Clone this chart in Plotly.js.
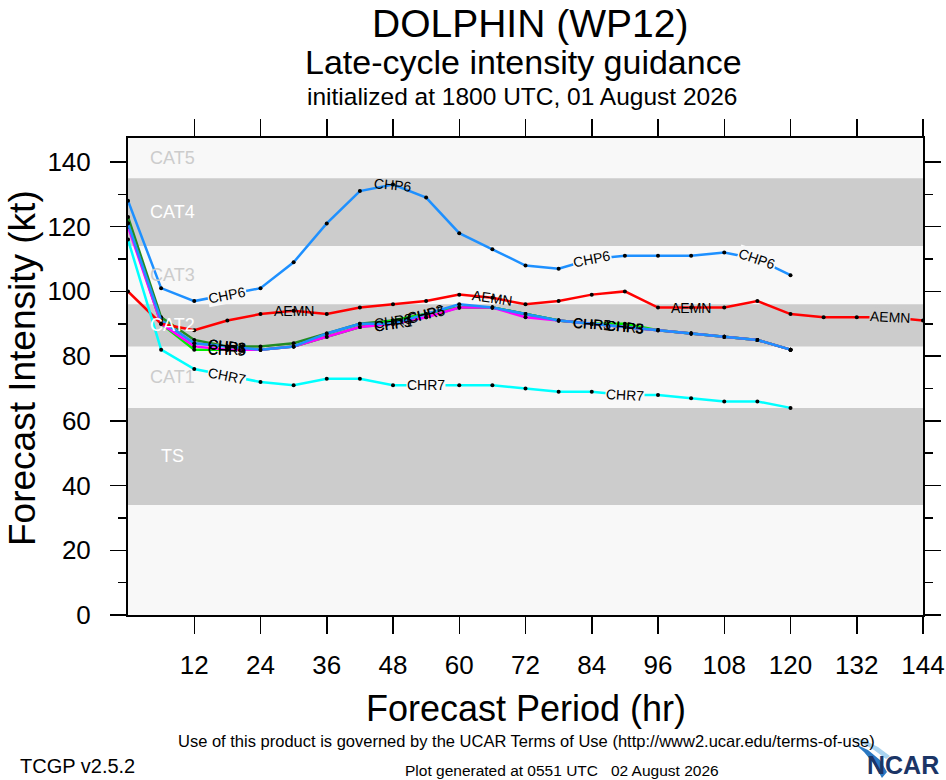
<!DOCTYPE html>
<html><head><meta charset="utf-8">
<script src="https://cdn.plot.ly/plotly-3.0.1.min.js"></script>
<style>html,body{margin:0;padding:0;background:#fff}#chart{width:946px;height:780px}</style>
</head><body><div id="chart"></div>
<script>
// ---------- data ----------
const hours = [0,6,12,18,24,30,36,42,48,54,60,66,72,78,84,90,96,102,108,114,120];
const hoursLong = [0,6,12,18,24,30,36,42,48,54,60,66,72,78,84,90,96,102,108,114,120,126,132,138,144];

const CHR1 = [122,91,84,83,82,83,86,89,90,92,95,95,93,91,90,89,88,87,86,85,82];
const CHR3 = [123,92,85,83,83,84,87,90,91,93,95,95,93,91,90,89,88,87,86,85,82];
const CHR5 = [121,90,82,82,82,83,86,89,91,93,95,95,93,91,90,90,88,87,86,85,82];
const CHP5 = [120,90,83,82,82,83,86,89,90,92,95,95,92,91,90,89,88,87,86,85,82];
const CHP3 = [121,91,84,83,82,83,87,90,90,93,96,95,93,91,90,89,88,87,86,85,82];
const CHP6 = [128,101,97,99,101,109,121,131,133,129,118,113,108,107,110,111,111,111,112,110,105];
const AEMN = [100,90,88,91,93,94,93,95,96,97,99,98,96,97,99,100,95,95,95,97,93,92,92,92,91];
const CHR7 = [116,82,76,74,72,71,73,73,71,71,71,71,70,69,69,68,68,67,66,66,64];

const xTickVals = [12,24,36,48,60,72,84,96,108,120,132,144];
const yTickVals = [0,20,40,60,80,100,120,140];

const catNames = ['TS','CAT1','CAT2','CAT3','CAT4','CAT5'];
const catLow   = [34,64,83,96,114,135];
const catHigh  = [64,83,96,114,135,160];
const catGray  = [true,false,true,false,true,false];

// ---------- geometry ----------
const W = 946, H = 780, L = 128, R = 923, T = 138, B = 615;
const XMAX = 144, YMAX = 147.4;
const pw = R - L, ph = B - T;
const pxX = px => (px - L) / pw;
const pxY = py => (B - py) / ph;
const hrPx = pw / XMAX, ktPx = ph / YMAX;
const GRAY = '#cccccc', LIGHT = '#f8f8f8';
const FONT = 'Liberation Sans, Arial, Helvetica, sans-serif';
const NARROW = 'Liberation Sans Narrow, Liberation Sans, Arial, sans-serif';

function bandColor(v){
  for (let i=0;i<catNames.length;i++) if (v>=catLow[i] && v<catHigh[i]) return catGray[i]?GRAY:LIGHT;
  return LIGHT;
}

const series = [
  {name:'CHR1', x:hours, y:CHR1, color:'#8c8c8c', labels:[18,48,84], bg:false},
  {name:'CHR3', x:hours, y:CHR3, color:'#228b22', labels:[18,48,90], bg:false},
  {name:'CHR5', x:hours, y:CHR5, color:'#00ee00', labels:[18,54,84], bg:false},
  {name:'CHP5', x:hours, y:CHP5, color:'#ff00ff', labels:[18,48,90], bg:false},
  {name:'CHP3', x:hours, y:CHP3, color:'#1e90ff', labels:[18,54,90], bg:false},
  {name:'CHP6', x:hours, y:CHP6, color:'#1e90ff', labels:[18,48,84,114], bg:true},
  {name:'AEMN', x:hoursLong, y:AEMN, color:'#ff0000', labels:[30,66,102,138], bg:true},
  {name:'CHR7', x:hours, y:CHR7, color:'#00ffff', labels:[18,54,90], bg:true}
];

const traces = series.map(s => ({
  type:'scatter', mode:'lines+markers', name:s.name, x:s.x, y:s.y,
  line:{color:s.color, width:2.5}, marker:{color:'black', size:4},
  hoverinfo:'skip', showlegend:false
}));

const annotations = [];
series.forEach(s => {
  s.labels.forEach(h => {
    const i = s.x.indexOf(h);
    const v = s.y[i];
    const i0 = Math.max(0,i-1), i1 = Math.min(s.x.length-1,i+1);
    const dx = (s.x[i1]-s.x[i0])*hrPx, dy = (s.y[i1]-s.y[i0])*ktPx;
    const ang = -Math.atan2(dy,dx)*180/Math.PI;
    const fits = bandColor(v-2.6) === bandColor(v+2.6);
    annotations.push({
      x:h, y:v, xref:'x', yref:'y', text:s.name, showarrow:false,
      textangle:ang, font:{family:FONT, size:14, color:'black'},
      bgcolor: (s.bg && fits) ? bandColor(v) : 'rgba(0,0,0,0)', borderpad:0
    });
  });
});

// category labels
catNames.forEach((n,i) => {
  const mid = (catLow[i] + Math.min(catHigh[i], YMAX)) / 2;
  annotations.push({x:8, y:mid, xref:'x', yref:'y', text:n, showarrow:false,
    font:{family:FONT, size:18, color: catGray[i] ? '#ffffff' : '#cccccc'}});
});

function txt(t, cx, cy, size, opts){
  return Object.assign({text:t, x:pxX(cx), y:pxY(cy), xref:'paper', yref:'paper',
    showarrow:false, xanchor:'center', yanchor:'middle',
    font:{family:FONT, size:size, color:'black'}}, opts||{});
}
annotations.push(txt('DOLPHIN (WP12)', 530, 0, 39, {yanchor:'top'}));
annotations.push(txt('Late-cycle intensity guidance', 523, 62, 34));
annotations.push(txt('initialized at 1800 UTC, 01 August 2026', 522, 97, 24.5));
annotations.push(txt('Forecast Intensity (kt)', 22, 368, 37, {textangle:-90}));
annotations.push(txt('Forecast Period (hr)', 526, 708, 36));
annotations.push(txt('Use of this product is governed by the UCAR Terms of Use (http://www2.ucar.edu/terms-of-use)', 526, 741, 16.5, {font:{family:NARROW, size:16.5, color:'black'}}));
annotations.push(txt('TCGP v2.5.2', 18, 766, 20, {xanchor:'left', font:{family:NARROW, size:20, color:'black'}}));
annotations.push(txt('Plot generated at 0551 UTC\u00a0\u00a0\u00a002 August 2026', 562, 770, 15.5, {font:{family:NARROW, size:15.5, color:'black'}}));
annotations.push(txt('<b>NCAR</b>', 941, 765, 25, {xanchor:'right', font:{family:NARROW, size:25, color:'#1b3566'}}));

// shapes: category bands + NCAR swoosh
const shapes = [];
catNames.forEach((n,i) => {
  if (catGray[i]) shapes.push({type:'rect', xref:'paper', yref:'y', x0:0, x1:1,
    y0:catLow[i], y1:Math.min(catHigh[i],YMAX), fillcolor:GRAY, line:{width:0}, layer:'below'});
});
function pathPx(pts){
  return 'M' + pts.map(p => pxX(p[0]).toFixed(4)+','+pxY(p[1]).toFixed(4)).join(' L') + ' Z';
}
shapes.push({type:'path', xref:'paper', yref:'paper', fillcolor:'#a9d3f0', line:{width:0},
  path: pathPx([[850,737],[864,740],[878,747],[890,756],[886,759],[874,750],[860,742]])});
shapes.push({type:'path', xref:'paper', yref:'paper', fillcolor:'#2a78c2', line:{width:0},
  path: pathPx([[855,744],[868,750],[880,760],[887,772],[882,778],[874,764],[864,752]])});

const layout = {
  width:W, height:H,
  margin:{l:L, r:W-R, t:T, b:H-B, pad:0},
  paper_bgcolor:'#ffffff', plot_bgcolor:LIGHT,
  showlegend:false,
  font:{family:FONT, color:'black'},
  xaxis:{range:[0,XMAX], tickmode:'array', tickvals:xTickVals, ticktext:xTickVals.map(String),
    ticks:'outside', ticklen:17, tickwidth:1.5, tickcolor:'black',
    showline:true, linecolor:'black', linewidth:2, mirror:'ticks',
    showgrid:false, zeroline:false, tickfont:{family:FONT, size:26}, ticklabelstandoff:9},
  yaxis:{range:[0,YMAX], tickmode:'array', tickvals:yTickVals, ticktext:yTickVals.map(String),
    ticks:'outside', ticklen:16, tickwidth:1.5, tickcolor:'black',
    minor:{tickmode:'linear', tick0:10, dtick:20, ticks:'outside', ticklen:8, tickwidth:1.5, tickcolor:'black', showgrid:false},
    showline:true, linecolor:'black', linewidth:2, mirror:'ticks',
    showgrid:false, zeroline:false, tickfont:{family:FONT, size:26}, ticklabelstandoff:14},
  annotations:annotations, shapes:shapes
};

Plotly.newPlot('chart', traces, layout, {staticPlot:true, displayModeBar:false});
</script></body></html>
